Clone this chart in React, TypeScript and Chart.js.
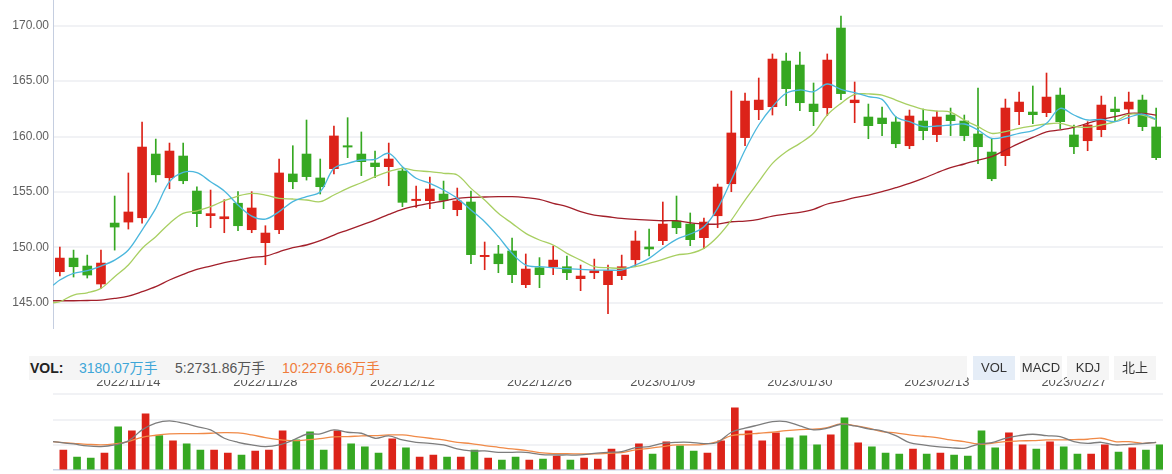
import React, { useEffect, useRef } from 'react';
import { Chart, registerables } from 'chart.js';

Chart.register(...registerables);

// ---------- categories ----------
const DATES = [
  '2022/11/07','2022/11/08','2022/11/09','2022/11/10','2022/11/11',
  '2022/11/14','2022/11/15','2022/11/16','2022/11/17','2022/11/18',
  '2022/11/21','2022/11/22','2022/11/23','2022/11/24','2022/11/25',
  '2022/11/28','2022/11/29','2022/11/30','2022/12/01','2022/12/02',
  '2022/12/05','2022/12/06','2022/12/07','2022/12/08','2022/12/09',
  '2022/12/12','2022/12/13','2022/12/14','2022/12/15','2022/12/16',
  '2022/12/19','2022/12/20','2022/12/21','2022/12/22','2022/12/23',
  '2022/12/26','2022/12/27','2022/12/28','2022/12/29','2022/12/30',
  '2023/01/03','2023/01/04','2023/01/05','2023/01/06',
  '2023/01/09','2023/01/10','2023/01/11','2023/01/12','2023/01/13',
  '2023/01/16','2023/01/17','2023/01/18','2023/01/19','2023/01/20',
  '2023/01/30','2023/01/31','2023/02/01','2023/02/02','2023/02/03',
  '2023/02/06','2023/02/07','2023/02/08','2023/02/09','2023/02/10',
  '2023/02/13','2023/02/14','2023/02/15','2023/02/16','2023/02/17',
  '2023/02/20','2023/02/21','2023/02/22','2023/02/23','2023/02/24',
  '2023/02/27','2023/02/28','2023/03/01','2023/03/02','2023/03/03',
  '2023/03/06','2023/03/07',
];
const TICK_LABELS = ['2022/11/14','2022/11/28','2022/12/12','2022/12/26','2023/01/09','2023/01/30','2023/02/13','2023/02/27'];
const PRICE_TICKS = [145, 150, 155, 160, 165, 170];

// ---------- candles ----------
const OPEN = [147.80,149.03,148.31,146.69,152.19,152.28,152.67,158.42,156.28,158.24,155.08,152.86,152.58,153.98,151.59,150.42,151.59,156.62,158.42,156.26,157.10,159.17,158.42,157.61,157.28,156.89,154.22,154.21,154.81,153.40,154.09,149.16,149.40,149.67,146.63,148.16,148.25,148.25,147.17,147.71,146.63,147.44,148.88,150.03,150.60,152.37,152.10,150.87,152.85,155.74,159.90,162.42,162.69,166.81,166.45,162.93,162.60,169.79,163.05,161.76,161.67,161.31,159.17,161.40,160.17,161.94,161.40,160.23,158.60,158.27,162.24,162.21,162.15,163.74,160.14,159.62,160.62,162.48,162.48,163.29,160.86];
const CLOSE = [149.03,148.25,147.50,148.58,151.83,153.19,159.05,156.55,158.69,156.01,153.04,153.04,152.76,151.95,153.55,151.29,156.71,155.92,156.38,155.47,160.05,159.05,157.73,157.28,157.97,154.06,154.34,155.26,154.24,154.18,149.34,149.28,148.52,147.53,148.04,147.53,148.85,147.71,147.41,147.89,147.89,148.25,150.57,149.85,152.10,151.77,150.69,152.28,155.44,160.32,163.20,163.29,166.99,164.32,163.05,162.24,166.90,163.87,163.29,160.98,161.16,159.35,161.85,160.53,161.76,161.43,160.08,159.08,156.19,162.57,163.11,161.97,163.56,161.34,159.08,161.04,162.84,162.24,163.11,160.89,158.09];
const HIGH = [150.03,149.75,149.30,149.75,154.63,156.71,161.31,159.77,159.41,159.41,155.47,155.17,154.30,155.02,155.02,151.95,157.97,159.17,161.49,157.97,160.95,161.70,160.41,158.69,159.41,157.19,155.53,156.34,155.98,155.35,155.08,150.48,150.18,150.84,149.40,149.07,150.12,149.22,148.40,148.94,148.40,149.30,151.47,151.65,154.09,154.63,153.10,152.64,155.71,164.11,163.93,165.28,167.45,167.54,167.63,164.83,167.45,170.88,164.92,162.93,162.66,161.79,162.39,162.48,162.30,162.57,161.94,164.38,159.80,163.38,164.01,164.56,165.73,164.38,161.04,161.34,163.65,163.56,164.01,163.74,162.57];
const LOW = [147.41,147.32,147.23,146.30,149.75,151.65,152.19,155.89,155.29,155.74,151.86,151.77,151.32,151.50,151.32,148.43,151.23,155.29,156.07,154.81,156.62,158.09,156.47,156.28,155.56,153.67,153.61,153.49,153.49,152.85,148.52,147.98,147.71,146.81,146.36,146.36,147.53,147.08,146.09,147.17,144.01,147.08,148.25,149.22,150.24,151.23,150.15,149.88,151.77,155.02,159.17,161.52,161.94,162.78,162.33,160.98,161.88,163.32,161.25,159.80,160.08,158.99,158.90,159.71,159.53,160.08,159.62,157.55,156.01,157.37,161.07,161.16,161.79,160.71,158.45,158.72,159.98,161.43,161.16,160.53,157.91];

// ---------- moving averages (first value sits on the left edge of the plot) ----------
const MA5 = [146.57,147.05,147.65,147.89,148.31,148.85,149.76,151.56,153.52,155.92,156.77,156.74,155.92,155.08,153.82,152.82,152.55,153.22,154.12,154.57,155.02,157.13,157.58,157.88,157.94,158.48,157.28,156.23,155.77,155.17,154.42,153.37,152.31,150.96,149.46,148.40,148.25,148.16,148.07,148.01,147.95,147.95,147.95,148.40,149.00,149.91,150.72,151.20,151.86,153.52,156.07,158.78,161.04,162.69,163.90,164.20,164.05,164.74,164.26,163.96,163.60,163.35,161.79,161.34,160.89,160.95,161.04,161.13,160.59,159.83,159.98,160.29,160.53,161.19,162.54,161.94,161.49,161.55,161.34,161.73,162.03,161.55];
const MA10 = [145.00,145.09,145.69,145.90,146.30,147.35,148.40,149.90,150.96,152.16,153.06,153.30,153.67,154.21,154.63,154.87,154.72,154.42,154.36,154.27,154.12,154.72,155.32,155.83,156.38,156.83,157.13,156.92,156.83,156.68,156.53,155.32,154.27,153.07,152.16,151.26,150.66,150.21,149.46,148.85,148.25,148.16,148.10,148.25,148.55,148.91,149.30,149.46,149.91,150.96,152.46,154.27,155.92,157.58,158.63,159.38,160.29,161.94,162.99,163.81,163.84,163.74,163.29,162.84,162.45,162.30,162.21,161.49,160.89,160.29,160.44,160.74,160.95,161.13,161.19,160.89,160.83,161.04,161.34,162.00,161.94,161.49];
const MA60 = [145.18,145.18,145.18,145.20,145.24,145.39,145.60,146.00,146.45,147.05,147.56,148.01,148.31,148.61,148.85,149.09,149.20,149.60,149.98,150.21,150.60,151.11,151.56,152.01,152.46,152.97,153.43,153.73,153.97,154.18,154.42,154.51,154.54,154.57,154.57,154.48,154.33,153.97,153.67,153.22,152.91,152.76,152.61,152.52,152.46,152.40,152.40,152.22,152.10,152.10,152.31,152.37,152.52,152.82,153.00,153.16,153.43,153.91,154.18,154.48,154.72,155.02,155.38,155.77,156.22,156.73,157.19,157.52,157.88,158.18,158.78,159.38,159.92,160.41,160.59,160.83,161.19,161.55,161.79,162.09,162.09,161.94];

// ---------- volume (万手) ----------
const VOLUME = [2526,1642,1516,2147,5431,4926,7073,4332,3663,3284,2526,2526,2147,1895,2400,2526,4926,3789,4799,2526,4926,3284,2905,2147,3915,2779,1642,1895,1642,1642,2526,1516,1263,1642,1263,1389,1768,1263,1516,1389,2652,1895,3284,2021,3536,3031,2400,2147,3663,7831,4926,3663,4673,4042,4294,3158,4421,6568,3410,2905,2147,2021,2652,2021,2147,1895,1768,4926,2779,4673,3158,2652,3536,2905,2021,2021,3158,2273,2779,2526,3180.07];
const VOL_MA5 = [3579,3494,3284,3031,2947,3158,3663,5052,5894,6189,5894,5473,5052,4000,3494,3158,2947,3158,3747,4505,4547,5052,4757,4631,4000,4294,3789,3494,3368,3158,2652,2400,2400,2231,2231,2231,1979,1895,1895,1895,2105,2231,2315,2820,2947,3368,3494,3494,3326,3494,4757,5263,5684,6104,6104,5557,5052,5263,5768,5557,5178,4926,4336,3452,3158,2947,2820,2737,3242,3452,4000,4336,4505,4336,4210,3579,3368,3494,3158,3242,3326,3494];
const VOL_MA10 = [3579,3494,3368,3242,3158,3284,3579,4126,4378,4547,4589,4589,4631,4715,4673,4421,4084,3831,3705,3789,3957,4168,4210,4294,4336,4421,4421,4210,4000,3789,3494,3326,3073,2863,2652,2484,2189,2063,2063,2021,2021,2105,2189,2526,2737,2947,3158,3158,3242,3579,4336,4505,4631,4757,4968,5094,5136,5347,5810,5599,5263,4841,4673,4421,4252,4084,3789,3579,3284,3368,3579,3663,3705,3789,3789,3831,3873,4000,3579,3579,3368,3494];
const VOL_LEGEND = ['3180.07万手', '5:2731.86万手', '10:2276.66万手'];
const BUTTONS = ['VOL', 'MACD', 'KDJ', '北上'];

// ---------- styles ----------
const RED = '#dc2319';
const GREEN = '#36a822';
const C_MA5 = '#4bb7dd';
const C_MA10 = '#a8cf62';
const C_MA60 = '#a21f2a';
const C_VMA5 = '#7d7d7d';
const C_VMA10 = '#f08a48';
const GRID = '#f1f2f5';
const FONT = '"Liberation Sans", Arial, sans-serif';

const candleColors = OPEN.map((o, i) => (CLOSE[i] >= o ? RED : GREEN));
const toPts = (arr: number[]) => arr.map((y, i) => ({ x: i === 0 ? -0.5 : i - 1, y }));

const lineDs = (data: number[], color: string) => ({
  type: 'line' as const,
  xAxisID: 'xl',
  data: toPts(data),
  borderColor: color,
  borderWidth: 1.3,
  pointRadius: 0,
  tension: 0.35,
  fill: false,
  order: 0,
});

const lineAxis = { type: 'linear', display: false, offset: false, min: -0.5, max: 80.5, grid: { offset: false } };

export default function App() {
  const priceRef = useRef<HTMLCanvasElement>(null);
  const volRef = useRef<HTMLCanvasElement>(null);

  useEffect(() => {
    const pc = new Chart(priceRef.current!, {
      type: 'bar',
      data: {
        labels: DATES,
        datasets: [
          lineDs(MA5, C_MA5) as any,
          lineDs(MA10, C_MA10) as any,
          lineDs(MA60, C_MA60) as any,
          {
            type: 'bar',
            xAxisID: 'x',
            data: DATES.map((_, i) => [OPEN[i], CLOSE[i]]),
            backgroundColor: candleColors,
            barThickness: 9,
            minBarLength: 1,
            grouped: false,
            order: 1,
          },
          {
            type: 'bar',
            xAxisID: 'x',
            data: DATES.map((_, i) => [LOW[i], HIGH[i]]),
            backgroundColor: candleColors,
            barThickness: 1,
            grouped: false,
            order: 2,
          },
        ],
      },
      options: {
        responsive: false,
        animation: false,
        events: [],
        layout: { padding: { top: 0, right: 9, bottom: 2, left: 0 } },
        plugins: { legend: { display: false }, tooltip: { enabled: false } },
        scales: {
          x: { type: 'category', display: false, offset: true, grid: { display: false } },
          xl: lineAxis,
          y: {
            min: 142.72,
            max: 172.32,
            afterBuildTicks: (s: any) => { s.ticks = PRICE_TICKS.map((v) => ({ value: v })); },
            afterFit: (s: any) => { s.width = 53; s.paddingTop = 0; s.paddingBottom = 0; },
            ticks: {
              callback: (v: any) => Number(v).toFixed(2),
              font: { family: FONT, size: 12 },
              color: '#5f5f5f',
              padding: 4,
            },
            grid: { color: GRID, lineWidth: 2, drawTicks: false },
            border: { display: true, color: '#c5cee0', width: 1 },
          },
        },
      } as any,
    });

    const vc = new Chart(volRef.current!, {
      type: 'bar',
      data: {
        labels: DATES,
        datasets: [
          lineDs(VOL_MA5, C_VMA5) as any,
          lineDs(VOL_MA10, C_VMA10) as any,
          {
            type: 'bar',
            xAxisID: 'x',
            data: VOLUME,
            backgroundColor: candleColors,
            barThickness: 7,
            order: 1,
          },
        ],
      },
      options: {
        responsive: false,
        animation: false,
        events: [],
        layout: { padding: { top: 0, right: 9, bottom: 4, left: 0 } },
        plugins: { legend: { display: false }, tooltip: { enabled: false } },
        scales: {
          x: {
            type: 'category',
            position: 'top',
            offset: true,
            grid: { display: false, drawTicks: false },
            border: { display: false },
            afterFit: (s: any) => { s.height = 34.3; s.paddingLeft = 0; s.paddingRight = 0; },
            ticks: {
              autoSkip: false,
              maxRotation: 0,
              minRotation: 0,
              padding: 4,
              color: '#555',
              font: { family: FONT, size: 13 },
              callback: (_v: any, i: number) => (TICK_LABELS.includes(DATES[i]) ? DATES[i] : ''),
            },
          },
          xl: lineAxis,
          y: {
            min: 0,
            max: 9540,
            afterFit: (s: any) => { s.width = 53; s.paddingTop = 0; s.paddingBottom = 0; },
            ticks: { display: false, stepSize: 3180 },
            grid: {
              drawTicks: false,
              color: (c: any) => (c.tick && c.tick.value === 0 ? '#c9d4e8' : GRID),
              lineWidth: (c: any) => (c.tick && c.tick.value === 0 ? 1.5 : 2),
            },
            border: { display: false },
          },
        },
      } as any,
    });

    return () => { pc.destroy(); vc.destroy(); };
  }, []);

  const legendFont = '"Liberation Sans", "Noto Sans CJK SC", Arial, sans-serif';
  const btnLefts = [973, 1020, 1067, 1114];

  return (
    <div style={{ position: 'absolute', left: 0, top: 0, width: 1172, height: 474, background: '#fff', overflow: 'hidden' }}>
      <canvas ref={priceRef} width={1172} height={330} style={{ position: 'absolute', left: 0, top: 0, width: 1172, height: 330 }} />
      <canvas ref={volRef} width={1172} height={114} style={{ position: 'absolute', left: 0, top: 360, width: 1172, height: 114 }} />
      <div style={{ position: 'absolute', left: 29, top: 356, width: 938, height: 24, background: '#f5f5f5', fontFamily: legendFont, fontSize: 14, lineHeight: '24px', zIndex: 2 }}>
        <span style={{ position: 'absolute', left: 1, fontWeight: 'bold', color: '#222' }}>VOL:</span>
        <span style={{ position: 'absolute', left: 50, color: '#3ea6d8' }}>{VOL_LEGEND[0]}</span>
        <span style={{ position: 'absolute', left: 146, color: '#555' }}>{VOL_LEGEND[1]}</span>
        <span style={{ position: 'absolute', left: 253, color: '#f07c3a' }}>{VOL_LEGEND[2]}</span>
      </div>
      {BUTTONS.map((b, i) => (
        <div key={b} style={{ position: 'absolute', left: btnLefts[i], top: 356, width: 42, height: 24, lineHeight: '24px', textAlign: 'center', background: i === 0 ? '#e5edf7' : '#f5f5f5', color: '#333', fontFamily: legendFont, fontSize: 13, zIndex: 2 }}>{b}</div>
      ))}
    </div>
  );
}
